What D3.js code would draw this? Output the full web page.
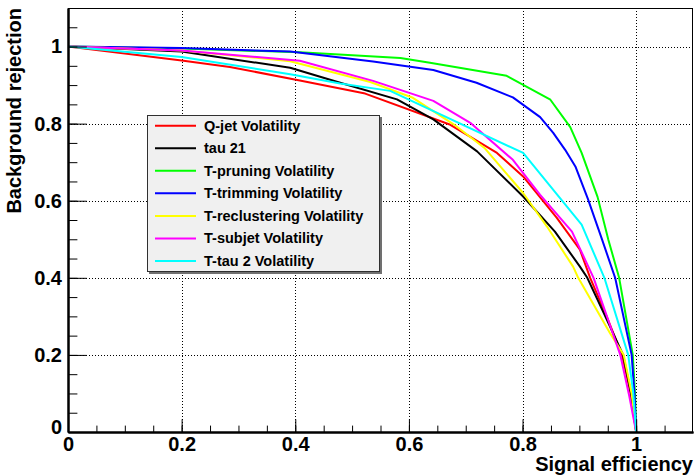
<!DOCTYPE html>
<html>
<head>
<meta charset="utf-8">
<script src="https://cdn.jsdelivr.net/npm/d3@7"></script>
<style>
  body { margin: 0; background: #fff; }
  text { font-family: "Liberation Sans", Arial, Helvetica, sans-serif; font-weight: bold; }
</style>
</head>
<body>
<script>
// ROC points [signal efficiency, background rejection]
var qjetVol = [[0,1],[0.2,0.964],[0.285,0.947],[0.408,0.912],[0.523,0.878],[0.673,0.797],[0.755,0.724],[0.801,0.663],[0.860,0.556],[0.901,0.473],[0.919,0.4],[0.948,0.3],[0.975,0.2],[0.99,0.1],[1,0]];
var tau21 = [[0,1],[0.2,0.987],[0.391,0.945],[0.479,0.906],[0.579,0.863],[0.643,0.811],[0.72,0.728],[0.801,0.611],[0.857,0.52],[0.901,0.429],[0.914,0.4],[0.944,0.305],[0.977,0.2],[0.991,0.1],[1,0]];
var pruningVol = [[0,1],[0.2,0.995],[0.408,0.985],[0.585,0.970],[0.637,0.958],[0.772,0.924],[0.849,0.862],[0.884,0.791],[0.904,0.724],[0.932,0.61],[0.951,0.499],[0.970,0.4],[0.994,0.2],[0.998,0.1],[1,0]];
var trimmingVol = [[0,1],[0.2,0.996],[0.391,0.987],[0.537,0.961],[0.643,0.939],[0.719,0.906],[0.783,0.868],[0.831,0.817],[0.854,0.776],[0.875,0.732],[0.893,0.689],[0.915,0.605],[0.940,0.499],[0.963,0.4],[0.992,0.2],[0.997,0.1],[1,0]];
var reclusteringVol = [[0,1],[0.2,0.99],[0.391,0.962],[0.532,0.908],[0.607,0.867],[0.68,0.797],[0.733,0.737],[0.801,0.620],[0.843,0.533],[0.889,0.429],[0.898,0.4],[0.954,0.256],[0.978,0.2],[0.992,0.1],[1,0]];
var subjetVol = [[0,1],[0.2,0.99],[0.408,0.963],[0.537,0.911],[0.643,0.859],[0.708,0.802],[0.783,0.706],[0.831,0.615],[0.887,0.52],[0.925,0.4],[0.972,0.2],[0.988,0.092],[1,0]];
var tau2Vol = [[0,1],[0.2,0.973],[0.391,0.928],[0.479,0.904],[0.567,0.885],[0.801,0.724],[0.904,0.538],[0.944,0.4],[0.986,0.2],[0.995,0.1],[1,0]];

var seriesNames = ["Q-jet Volatility", "tau 21", "T-pruning Volatility", "T-trimming Volatility",
                   "T-reclustering Volatility", "T-subjet Volatility", "T-tau 2 Volatility"];
var seriesData = [qjetVol, tau21, pruningVol, trimmingVol, reclusteringVol, subjetVol, tau2Vol];
var seriesColors = ["#ff0000", "#000000", "#00ff00", "#0000ff", "#ffff00", "#ff00ff", "#00ffff"];

var majorTicks = [0, 0.2, 0.4, 0.6, 0.8, 1];
var minorTicks = d3.range(0, 21).map(function(i) { return i * 0.05; }).concat([1.05]);

var width = 695, height = 476;
var pLeft = 68, pRight = 693, pTop = 8, pBottom = 432;

var svg = d3.select("body").append("svg")
    .attr("width", width)
    .attr("height", height);

var x = d3.scaleLinear().domain([0, 1.1]).range([pLeft, pRight]);
var y = d3.scaleLinear().domain([0, 1.1]).range([pBottom, pTop]);

// grid (dotted, at major ticks)
var grid = svg.append("g").attr("stroke", "#000").attr("stroke-width", 1).attr("stroke-dasharray", "1,2");
grid.selectAll("line.gx").data(majorTicks.slice(1)).enter().append("line")
    .attr("x1", function(d) { return Math.round(x(d)) + 0.5; })
    .attr("x2", function(d) { return Math.round(x(d)) + 0.5; })
    .attr("y1", pTop).attr("y2", pBottom);
grid.selectAll("line.gy").data(majorTicks.slice(1)).enter().append("line")
    .attr("y1", function(d) { return Math.round(y(d)) + 0.5; })
    .attr("y2", function(d) { return Math.round(y(d)) + 0.5; })
    .attr("x1", pLeft).attr("x2", pRight);

// frame
svg.append("rect")
    .attr("x", pLeft + 0.5).attr("y", pTop + 0.5)
    .attr("width", pRight - pLeft - 1).attr("height", pBottom - pTop)
    .attr("fill", "none").attr("stroke", "#000");

// curves
var line = d3.line()
    .x(function(d) { return x(d[0]); })
    .y(function(d) { return y(d[1]); });

svg.selectAll("path.curve").data(seriesData).enter().append("path")
    .attr("class", "curve")
    .attr("d", line)
    .attr("fill", "none")
    .attr("stroke", function(d, i) { return seriesColors[i]; })
    .attr("stroke-width", 2)
    .attr("stroke-linejoin", "round");

// axes: minor ticks, then major ticks with labels
var xMinor = d3.axisBottom(x).tickValues(minorTicks).tickSize(-6.4).tickSizeOuter(0).tickFormat("");
var xMajor = d3.axisBottom(x).tickValues(majorTicks).tickSize(-12.7).tickSizeOuter(0).tickPadding(5).tickFormat(d3.format("~g"));
var yMinor = d3.axisLeft(y).tickValues(minorTicks).tickSize(-9.4).tickSizeOuter(0).tickFormat("");
var yMajor = d3.axisLeft(y).tickValues(majorTicks).tickSize(-18.8).tickSizeOuter(0).tickPadding(6).tickFormat(d3.format("~g"));

function styleAxis(g) {
  g.select(".domain").attr("stroke-width", 2);
  g.selectAll(".tick line").attr("stroke-width", 1);
  g.selectAll("text").attr("font-size", 20).attr("fill", "#000")
    .attr("font-family", "'Liberation Sans', Arial, Helvetica, sans-serif").attr("font-weight", "bold");
}

svg.append("g").attr("transform", "translate(0," + pBottom + ")").call(xMinor).call(styleAxis);
svg.append("g").attr("transform", "translate(0," + pBottom + ")").call(xMajor).call(styleAxis);
svg.append("g").attr("transform", "translate(" + pLeft + ",0)").call(yMinor).call(styleAxis);
var yAx = svg.append("g").attr("transform", "translate(" + pLeft + ",0)").call(yMajor).call(styleAxis);
yAx.selectAll(".tick text").filter(function(d) { return d === 0; }).attr("y", -5);

// axis titles
svg.append("text")
    .attr("x", pRight).attr("y", 471)
    .attr("text-anchor", "end")
    .attr("font-size", 20)
    .text("Signal efficiency");

svg.append("text")
    .attr("transform", "translate(21," + pTop + ") rotate(-90)")
    .attr("text-anchor", "end")
    .attr("font-size", 20)
    .text("Background rejection");

// legend
var lg = svg.append("g");
lg.append("rect")
    .attr("x", 149).attr("y", 117).attr("width", 233).attr("height", 157)
    .attr("fill", "#707070");
lg.append("rect")
    .attr("x", 147.5).attr("y", 115.5).attr("width", 232).attr("height", 156)
    .attr("fill", "#f0f0f0").attr("stroke", "#303030");

var item = lg.selectAll("g.item").data(seriesNames).enter().append("g")
    .attr("class", "item")
    .attr("transform", function(d, i) { return "translate(0," + (125.7 + i * 22.55) + ")"; });
item.append("line")
    .attr("x1", 155).attr("x2", 196)
    .attr("stroke", function(d, i) { return seriesColors[i]; })
    .attr("stroke-width", 2);
item.append("text")
    .attr("x", 204).attr("y", 5)
    .attr("font-size", 14.5)
    .text(function(d) { return d; });
</script>
</body>
</html>
